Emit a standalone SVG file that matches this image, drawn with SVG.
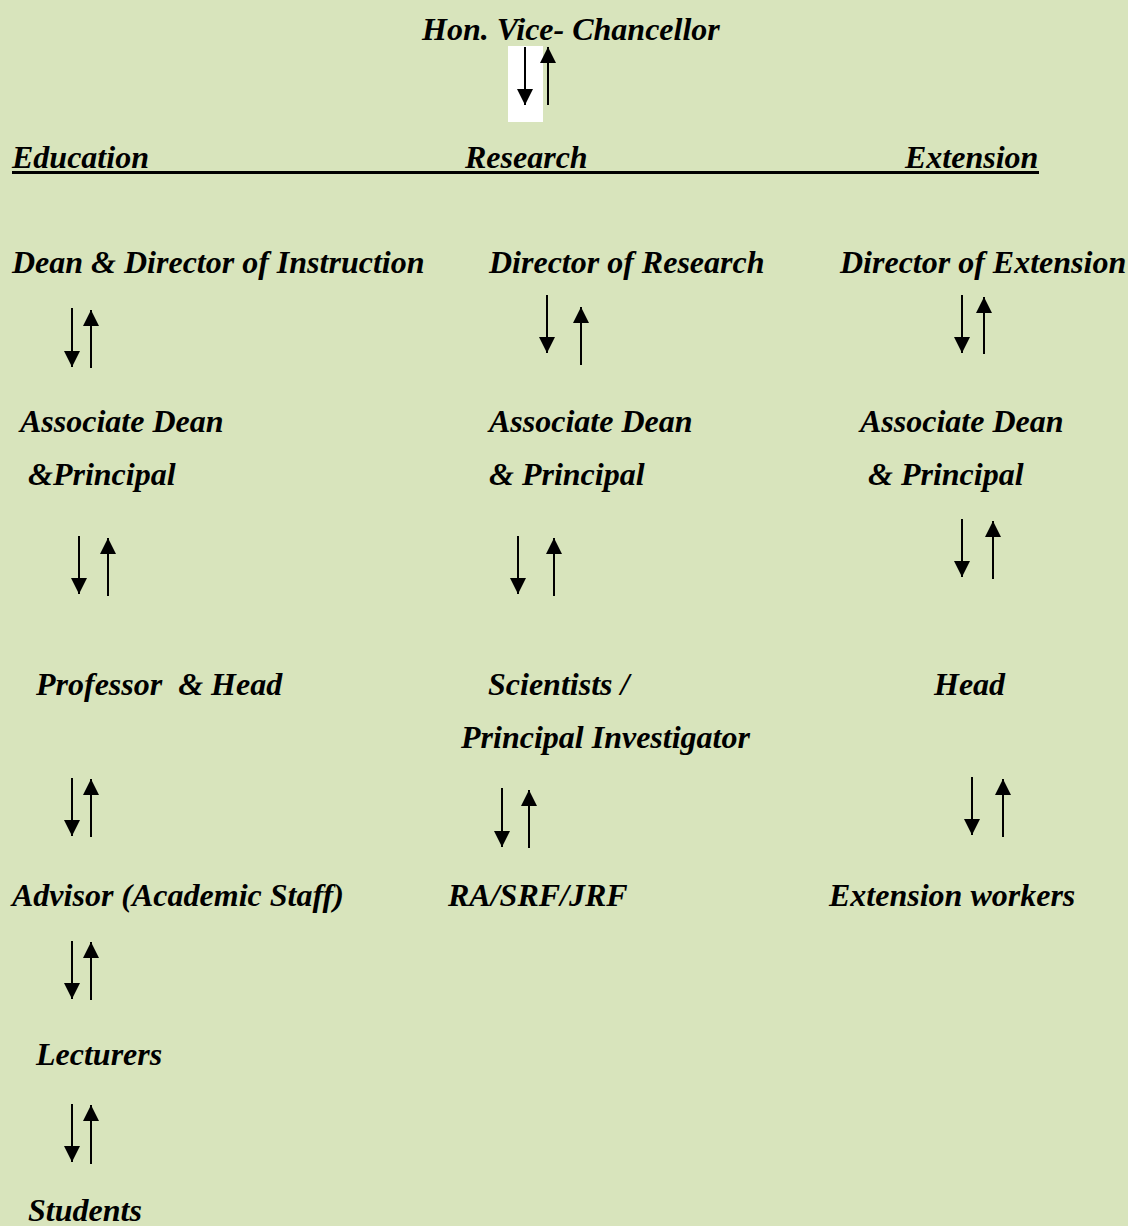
<svg xmlns="http://www.w3.org/2000/svg" width="1128" height="1226" viewBox="0 0 1128 1226">
<style>
.t{font-family:"Liberation Serif","Times New Roman",serif;font-weight:bold;font-style:italic;font-size:32px;fill:#000}
.a{stroke:#000;stroke-width:2;fill:none;marker-end:url(#ah)}
</style>
<defs>
<marker id="ah" markerUnits="userSpaceOnUse" markerWidth="17" markerHeight="17" refX="16" refY="8" orient="auto" viewBox="0 0 17 17">
<path d="M0,0 L16,8 L0,16 z" fill="#000"/>
</marker>
</defs>
<rect width="1128" height="1226" fill="#D8E4BC"/>
<rect x="508" y="46" width="35" height="76" fill="#FFFFFF"/>
<g id="vc"><text class="t" x="422" y="40">Hon. Vice- Chancellor</text></g>
<g id="headers">
<text class="t" x="12" y="168">Education</text>
<text class="t" x="465" y="168">Research</text>
<text class="t" x="905" y="168">Extension</text>
<rect x="12" y="171" width="1027" height="3" fill="#000"/>
</g>
<g id="dean"><text class="t" x="12" y="273">Dean &amp; Director of Instruction</text></g>
<g id="dir-research"><text class="t" x="489" y="273">Director of Research</text></g>
<g id="dir-extension"><text class="t" x="840" y="273">Director of Extension</text></g>
<g id="assoc-edu"><text class="t" x="20" y="432">Associate Dean</text><text class="t" x="28" y="485">&amp;Principal</text></g>
<g id="assoc-res"><text class="t" x="489" y="432">Associate Dean</text><text class="t" x="489" y="485">&amp; Principal</text></g>
<g id="assoc-ext"><text class="t" x="860" y="432">Associate Dean</text><text class="t" x="868" y="485">&amp; Principal</text></g>
<g id="prof-head"><text class="t" x="36" y="695" xml:space="preserve">Professor  &amp; Head</text></g>
<g id="scientists"><text class="t" x="488" y="695">Scientists /</text><text class="t" x="461" y="748">Principal Investigator</text></g>
<g id="head-ext"><text class="t" x="934" y="695">Head</text></g>
<g id="advisor"><text class="t" x="12" y="906">Advisor (Academic Staff)</text></g>
<g id="ra"><text class="t" x="448" y="906">RA/SRF/JRF</text></g>
<g id="ext-workers"><text class="t" x="829" y="906">Extension workers</text></g>
<g id="lecturers"><text class="t" x="36" y="1065">Lecturers</text></g>
<g id="students"><text class="t" x="28" y="1221">Students</text></g>
<g id="connectors">
<line class="a" x1="525" y1="47" x2="525" y2="105"/>
<line class="a" x1="548" y1="105" x2="548" y2="47"/>
<line class="a" x1="72" y1="308" x2="72" y2="367"/>
<line class="a" x1="91" y1="368" x2="91" y2="310"/>
<line class="a" x1="547" y1="295" x2="547" y2="353"/>
<line class="a" x1="581" y1="365" x2="581" y2="307"/>
<line class="a" x1="962" y1="295" x2="962" y2="353"/>
<line class="a" x1="984" y1="354" x2="984" y2="297"/>
<line class="a" x1="79" y1="536" x2="79" y2="594"/>
<line class="a" x1="108" y1="596" x2="108" y2="538"/>
<line class="a" x1="518" y1="536" x2="518" y2="594"/>
<line class="a" x1="554" y1="596" x2="554" y2="538"/>
<line class="a" x1="962" y1="519" x2="962" y2="577"/>
<line class="a" x1="993" y1="579" x2="993" y2="521"/>
<line class="a" x1="72" y1="778" x2="72" y2="836"/>
<line class="a" x1="91" y1="837" x2="91" y2="779"/>
<line class="a" x1="502" y1="788" x2="502" y2="847"/>
<line class="a" x1="529" y1="848" x2="529" y2="790"/>
<line class="a" x1="972" y1="777" x2="972" y2="835"/>
<line class="a" x1="1003" y1="837" x2="1003" y2="779"/>
<line class="a" x1="72" y1="941" x2="72" y2="999"/>
<line class="a" x1="91" y1="1000" x2="91" y2="942"/>
<line class="a" x1="72" y1="1104" x2="72" y2="1162"/>
<line class="a" x1="91" y1="1164" x2="91" y2="1105"/>
</g>
</svg>
